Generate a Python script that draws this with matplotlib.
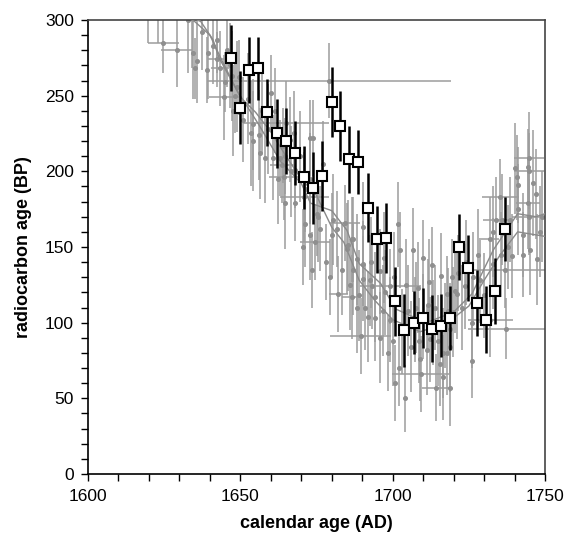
import matplotlib
matplotlib.use("Agg")
import matplotlib.pyplot as plt
from matplotlib.ticker import MultipleLocator

# measured radiocarbon ages (black squares)
bx = [1646.8, 1650.0, 1652.9, 1655.9, 1658.9, 1661.9, 1665.1, 1668.0, 1670.9, 1673.7,
      1676.8, 1680.0, 1682.8, 1685.8, 1688.7, 1691.9, 1694.8, 1697.8, 1700.8, 1703.8,
      1706.9, 1709.9, 1712.8, 1715.7, 1718.7, 1721.9, 1724.8, 1727.8, 1730.7, 1733.7, 1737.0]
by = [275, 242, 267, 268, 239, 225, 220, 212, 196, 189,
      197, 246, 230, 208, 206, 176, 155, 156, 114, 95,
      100, 103, 96, 98, 103, 150, 136, 113, 102, 121, 162]
berr = [22, 24, 22, 21, 22, 23, 22, 21, 21, 24,
        23, 23, 23, 22, 21, 23, 22, 23, 23, 24,
        21, 20, 22, 21, 21, 22, 22, 22, 22, 22, 21]

# calibration data set (grey points)
gx = [1619.8, 1623.1, 1627.2, 1632.9, 1634.0, 1624.7, 1629.1, 1634.6, 1635.7, 1635.1,
      1638.9, 1641.1, 1642.2, 1643.3, 1644.6, 1645.5, 1647.2, 1648.8, 1648.3, 1645.0,
      1642.3, 1651.0, 1654.3, 1654.3, 1656.0, 1657.0, 1658.1, 1660.1, 1660.8, 1663.0,
      1664.1, 1666.3, 1665.0, 1674.0, 1672.9, 1671.2, 1671.0, 1668.0, 1671.2, 1675.6,
      1672.9, 1676.1, 1680.5, 1684.3, 1680.0, 1685.4, 1687.1, 1688.2, 1690.4, 1674.5,
      1673.4, 1664.4, 1664.7, 1668.0, 1664.7, 1675.0, 1679.0, 1686.5, 1690.4, 1681.6,
      1663.8, 1684.9, 1687.1, 1686.5, 1688.2, 1690.4, 1692.5, 1693.1, 1694.2, 1695.8,
      1696.9, 1694.2, 1695.8, 1699.1, 1698.6, 1700.8, 1704.0, 1701.8, 1702.4, 1706.8,
      1699.2, 1707.3, 1708.4, 1712.0, 1711.1, 1709.0, 1709.3, 1714.2, 1715.5, 1716.6,
      1718.2, 1718.8, 1717.7, 1720.4, 1721.5, 1713.3, 1712.2, 1689.5, 1682.2, 1705.0,
      1703.0, 1706.0, 1710.0, 1692.0, 1697.0, 1713.0, 1716.0, 1710.0, 1740.7, 1744.7,
      1741.2, 1744.5, 1735.3, 1734.0, 1731.9, 1738.5, 1742.9, 1745.1, 1742.9, 1747.3,
      1737.0, 1739.0, 1735.7, 1733.0, 1728.6, 1726.4, 1723.7, 1721.0, 1722.6, 1719.9,
      1718.8, 1717.7, 1725.9, 1718.8, 1716.6, 1748.3, 1732.0, 1737.3, 1744.7, 1744.7,
      1746.0, 1740.0, 1744.4,
      1637.5, 1639.5, 1646.5, 1647.5, 1649.5, 1652.5, 1653.5, 1656.5, 1659.0, 1661.5,
      1662.5, 1666.5, 1667.5, 1669.5, 1670.5, 1673.0, 1677.0, 1678.0, 1679.5, 1683.5,
      1686.0, 1689.0, 1691.0, 1693.0, 1697.5, 1700.0, 1700.5, 1702.0, 1704.5, 1707.5,
      1708.5, 1711.5, 1714.0, 1715.0, 1717.0, 1719.5, 1724.0, 1726.0, 1728.0, 1730.0,
      1733.0, 1736.0, 1738.0, 1741.0, 1747.0, 1749.0]
gy = [305, 310, 315, 300, 303, 285, 280, 278, 273, 268,
      267, 283, 287, 268, 249, 280, 263, 256, 250, 259,
      274, 234, 231, 220, 224, 240, 209, 252, 209, 209,
      217, 221, 232, 222, 222, 188, 183, 179, 165, 170,
      158, 162, 168, 166, 158, 151, 155, 142, 139, 153,
      135, 196, 179, 201, 210, 172, 260, 155, 163, 162,
      204, 149, 135, 117, 110, 129, 128, 124, 117, 134,
      108, 103, 90, 102, 80, 60, 50, 165, 148, 148,
      124, 102, 123, 127, 82, 76, 66, 57, 73, 80,
      108, 84, 119, 121, 133, 100, 89, 91, 119, 108,
      94, 84, 104, 104, 143, 138, 131, 143, 196, 209,
      191, 179, 183, 168, 155, 168, 158, 148, 145, 142,
      135, 144, 145, 139, 128, 130, 124, 119, 110, 107,
      96, 80, 75, 57, 64, 160, 102, 96, 200, 170,
      192, 202, 203,
      292, 278, 270, 240, 262, 248, 225, 212, 228, 240,
      195, 200, 225, 210, 150, 195, 205, 140, 130, 135,
      125, 118, 110, 140, 120, 88, 130, 70, 125, 110,
      88, 112, 110, 88, 98, 130, 140, 100, 145, 118,
      160, 168, 150, 175, 185, 170]
gyerr = [20, 25, 15, 35, 35, 20, 24, 30, 28, 20,
         22, 25, 22, 25, 28, 24, 30, 30, 25, 20,
         18, 28, 30, 33, 30, 28, 30, 25, 28, 25,
         25, 28, 28, 25, 25, 28, 30, 25, 28, 30,
         30, 28, 30, 25, 28, 30, 28, 30, 28, 25,
         25, 28, 30, 25, 25, 28, 25, 28, 30, 25,
         25, 30, 30, 28, 30, 28, 30, 28, 30, 28,
         30, 28, 30, 28, 25, 25, 22, 28, 25, 28,
         25, 28, 30, 28, 30, 28, 25, 22, 28, 30,
         28, 30, 25, 28, 25, 28, 28, 25, 25, 30,
         28, 30, 28, 30, 30, 25, 28, 25, 28, 30,
         25, 30, 25, 28, 28, 28, 28, 30, 28, 30,
         25, 28, 28, 30, 28, 30, 28, 30, 28, 30,
         30, 28, 25, 25, 28, 30, 25, 20, 25, 25,
         35, 30, 25,
         25, 30, 28, 30, 25, 30, 35, 30, 30, 28,
         30, 30, 28, 30, 25, 30, 28, 25, 25, 30,
         30, 30, 28, 30, 28, 30, 30, 25, 30, 30,
         28, 30, 28, 30, 28, 25, 28, 30, 30, 28,
         30, 30, 28, 30, 30, 30]
gxerr = [0, 0, 0, 0, 0, 5, 5, 0, 0, 0,
         0, 0, 0, 3, 5, 0, 0, 0, 0, 0,
         3, 0, 0, 0, 0, 0, 0, 0, 0, 0,
         0, 0, 14, 0, 0, 0, 8, 0, 0, 0,
         0, 0, 0, 5, 0, 0, 0, 0, 0, 5,
         0, 5, 0, 0, 0, 0, 40, 0, 0, 0,
         4, 0, 0, 3, 0, 0, 0, 0, 0, 0,
         0, 0, 0, 0, 0, 0, 0, 0, 0, 0,
         10, 0, 0, 0, 0, 0, 9.5, 4.7, 0, 0,
         0, 0, 0, 0, 0, 0, 0, 10, 3, 0,
         0, 0, 0, 0, 0, 0, 0, 0, 0, 5,
         0, 4, 6, 4.5, 3, 0, 0, 0, 0, 0,
         13, 0, 0, 0, 0, 0, 0, 0, 0, 0,
         0, 0, 0, 0, 0, 0, 7.4, 12.6, 5, 5.5,
         0, 0, 0,
         0, 0, 0, 0, 0, 0, 0, 0, 0, 0,
         0, 0, 0, 0, 0, 0, 0, 0, 0, 0,
         0, 0, 0, 0, 0, 0, 0, 0, 0, 0,
         0, 0, 0, 0, 0, 0, 0, 0, 0, 0,
         0, 0, 0, 0, 0, 0]

# two calibration curves
c1x = [1630, 1637, 1641, 1643, 1649, 1656, 1663, 1670, 1673, 1680, 1685, 1689,
       1696, 1701, 1711, 1720, 1726, 1733, 1741, 1747, 1750]
c1y = [305, 299, 287, 275, 253, 231, 207, 192, 179, 174, 161, 139,
       126, 109, 100, 107, 119, 148, 172, 170, 172]
c2x = [1628, 1635, 1640, 1644, 1650, 1655, 1660, 1665, 1670, 1675, 1680, 1684,
       1689, 1694, 1700, 1709, 1718, 1725, 1730, 1735, 1741, 1750]
c2y = [306, 299, 290, 273, 249, 239, 226, 210, 195, 184, 163, 153,
       128, 115, 102, 94, 100, 111, 128, 144, 160, 157]

plt.rcParams["font.family"] = ["Liberation Sans", "DejaVu Sans"]

fig = plt.figure(figsize=(5.66, 5.37), dpi=100)
ax = fig.add_axes([0.1555, 0.1173, 0.8075, 0.8455])

ax.errorbar(gx, gy, yerr=gyerr, xerr=gxerr, fmt="o", ms=2.6, color="#8f8f8f",
            ecolor="#9c9c9c", elinewidth=1.1, capsize=0, zorder=2)
ax.plot(c1x, c1y, color="#8a8a8a", lw=1.0, zorder=3)
ax.plot(c2x, c2y, color="#8a8a8a", lw=1.0, zorder=3)
ax.errorbar(bx, by, yerr=berr, fmt="s", ms=7.8, mfc="white", mec="black", mew=1.5,
            ecolor="black", elinewidth=1.8, capsize=0, zorder=5)

ax.set_xlim(1600, 1750)
ax.set_ylim(0, 300)
ax.xaxis.set_major_locator(MultipleLocator(50))
ax.xaxis.set_minor_locator(MultipleLocator(10))
ax.yaxis.set_major_locator(MultipleLocator(50))
ax.yaxis.set_minor_locator(MultipleLocator(10))
ax.tick_params(which="both", direction="out", length=5, width=1, labelsize=12.5,
               top=False, right=False)
ax.tick_params(axis="x", pad=6)
ax.tick_params(axis="y", pad=5)
for s in ["left", "bottom"]:
    ax.spines[s].set_linewidth(1.2)
for s in ["top", "right"]:
    ax.spines[s].set_color("#444444")
    ax.spines[s].set_linewidth(1.2)

ax.set_xlabel("calendar age (AD)", fontweight="bold", fontsize=13, labelpad=8)
ax.set_ylabel("radiocarbon age (BP)", fontweight="bold", fontsize=13, labelpad=9)

fig.savefig("out.png", dpi=100)
